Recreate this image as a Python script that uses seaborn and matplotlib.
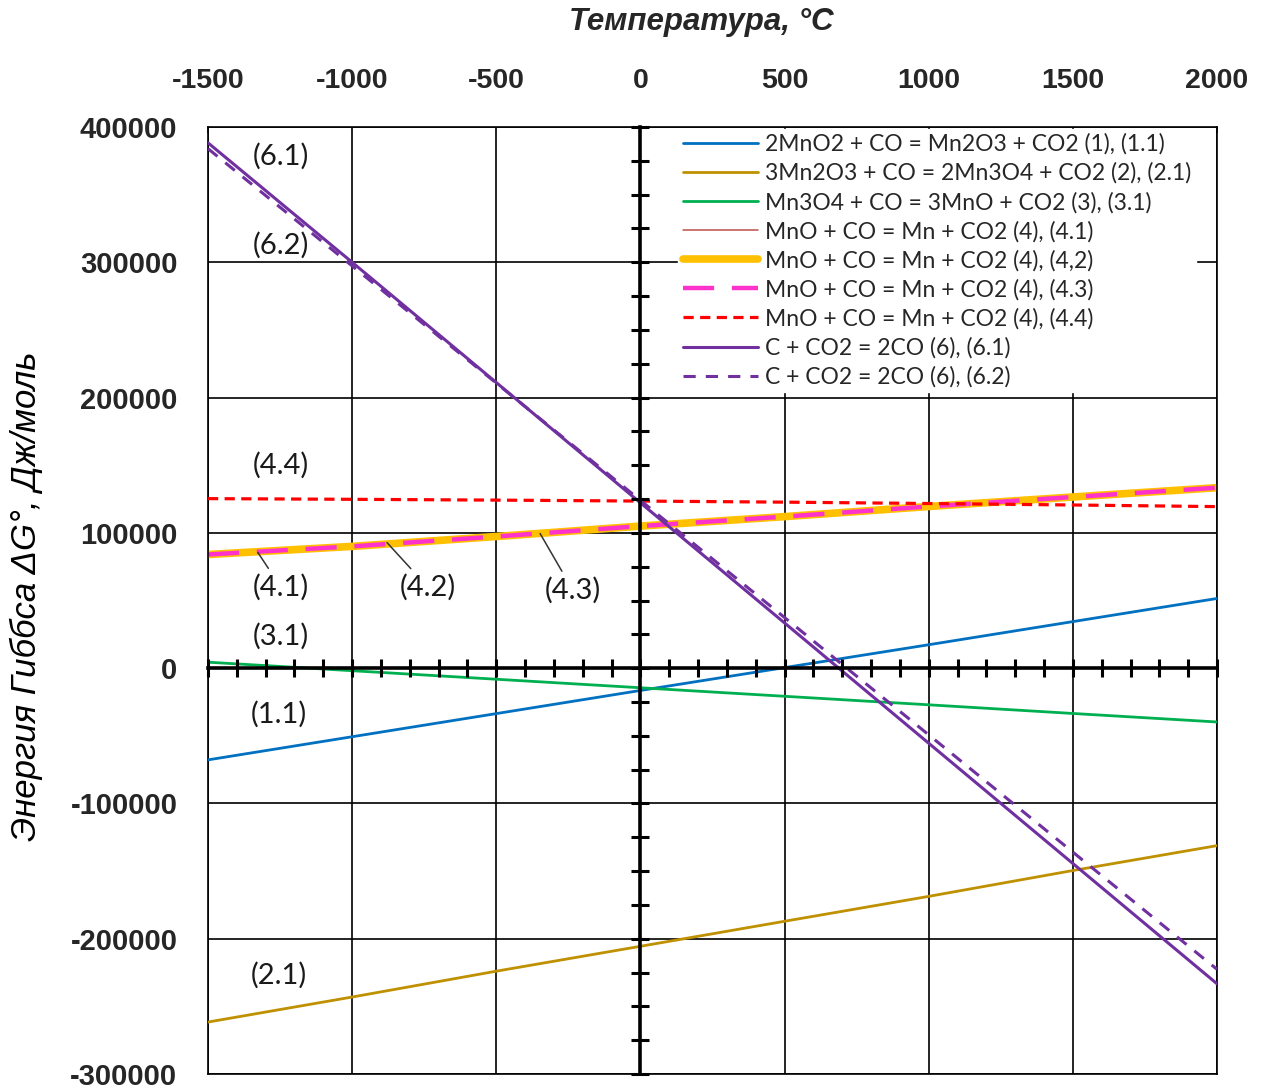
import matplotlib
matplotlib.use("Agg")
import matplotlib.pyplot as plt
import numpy as np
import seaborn as sns
from matplotlib import font_manager

# Температуры, °C (точки)
temps = [-1500, -1000, -500, 0, 500, 1000, 1500, 2000]

# Энергия Гиббса, Дж/моль
g_1_1 = [-67800, -50700, -33600, -16500, 400, 17300, 34400, 51500]
g_2_1 = [-261600, -243100, -224000, -205600, -187100, -168700, -149600, -131200]
g_3_1 = [4400, -1900, -8200, -14500, -20800, -27100, -33500, -39800]
g_4_x = [84000, 90000, 97300, 105000, 112000, 119500, 126500, 133400]
g_4_4 = [125300, 124800, 124200, 123500, 122700, 121700, 120600, 119400]
g_6_1 = [388300, 300000, 211100, 122200, 33400, -55500, -144400, -233300]
g_6_2 = [384000, 297300, 210700, 124000, 37400, -49300, -136000, -222600]

labels = [
    "2MnO2 + CO = Mn2O3 + CO2 (1), (1.1)",
    "3Mn2O3 + CO = 2Mn3O4 + CO2 (2), (2.1)",
    "Mn3O4 + CO = 3MnO + CO2 (3), (3.1)",
    "MnO + CO = Mn + CO2 (4), (4.1)",
    "MnO + CO = Mn + CO2 (4), (4,2)",
    "MnO + CO = Mn + CO2 (4), (4.3)",
    "MnO + CO = Mn + CO2 (4), (4.4)",
    "C + CO2 = 2CO (6), (6.1)",
    "C + CO2 = 2CO (6), (6.2)",
]

x_ticks = [-1500, -1000, -500, 0, 500, 1000, 1500, 2000]
y_ticks = [-300000, -200000, -100000, 0, 100000, 200000, 300000, 400000]

sns.set_style("white")
names = {f.name for f in font_manager.fontManager.ttflist}
narrow = "Liberation Sans Narrow" in names
top_family = ["Liberation Sans Narrow", "DejaVu Sans"] if narrow else ["Liberation Sans", "DejaVu Sans"]
plt.rcParams["font.family"] = ["Liberation Sans", "DejaVu Sans"]
plt.rcParams["axes.unicode_minus"] = False

fig = plt.figure(figsize=(12.61, 10.90), dpi=100)
pos = [208 / 1261, 1 - 1074 / 1090, 1009 / 1261, (1074 - 127) / 1090]
ax = fig.add_axes(pos)

# series: data, colour, width, dashes, zorder
series = [
    (g_1_1, "#0070C0", 2.0, None, 3),
    (g_2_1, "#BF9000", 2.0, None, 3),
    (g_3_1, "#00B050", 2.0, None, 3),
    (g_4_x, "#C0504D", 1.1, None, 2.0),
    (g_4_x, "#FFC000", 5.5, None, 2.1),
    (g_4_x, "#FF33CC", 3.2, [7, 4], 2.2),
    (g_4_4, "#FF0000", 2.3, [3.2, 2], 3),
    (g_6_1, "#7030A0", 2.2, None, 4),
    (g_6_2, "#7030A0", 2.2, [4, 3.3], 4),
]
for (vals, col, lw, dash, z), lab in zip(series, labels):
    sns.lineplot(x=temps, y=vals, ax=ax, color=col, linewidth=lw, label=lab,
                 zorder=z, legend=False)
    line = ax.lines[-1]
    if dash is not None:
        line.set_dashes(dash)
    if col == "#FFC000":
        line.set_solid_capstyle("round")

ax.set_xlim(-1500, 2000)
ax.set_ylim(-300000, 400000)
ax.set_xticks(x_ticks)
ax.set_yticks(y_ticks)
ax.xaxis.tick_top()
ax.grid(True, color="black", linewidth=1.2)
for s in ax.spines.values():
    s.set_visible(True)
    s.set_color("black")
    s.set_linewidth(1.2)
ax.tick_params(axis="x", which="major", top=True, direction="in", length=4, width=1.2,
               pad=24, labelsize=23 if narrow else 20.5)
ax.tick_params(axis="y", which="major", length=0, pad=22, labelsize=21)
for t in ax.get_xticklabels():
    t.set_fontweight("bold")
    t.set_family(top_family)
for t in ax.get_yticklabels():
    t.set_fontweight("bold")
ax.set_xlabel("")
ax.set_ylabel("")

# annotations
txt_kw = dict(fontsize=21, family=["Lato", "DejaVu Sans"], color="#1a1a1a",
              ha="center", va="center", zorder=6)
for s, (tx, ty) in {"(6.1)": (-1247, 378000), "(6.2)": (-1247, 312400),
                    "(4.4)": (-1247, 150300), "(3.1)": (-1247, 23600),
                    "(1.1)": (-1254, -33900), "(2.1)": (-1254, -227000)}.items():
    ax.text(tx, ty, s, **txt_kw)
for s, pt, tp in [("(4.1)", (-1327, 85500), (-1247, 59700)),
                  ("(4.2)", (-879, 92800), (-737, 59700)),
                  ("(4.3)", (-348, 99500), (-234, 57500))]:
    ax.annotate(s, xy=pt, xytext=tp, **txt_kw,
                arrowprops=dict(arrowstyle="-", color="#333333", lw=1.1,
                                shrinkA=2, shrinkB=0))

leg = ax.legend(loc="upper left", bbox_to_anchor=(0.466, 0.998),
                borderaxespad=0, frameon=True, fancybox=False,
                prop={"family": ["Lato", "DejaVu Sans"], "size": 16.5},
                handlelength=3.3, handletextpad=0.3, labelspacing=0.33,
                borderpad=0.2)
leg.get_frame().set_edgecolor("white")
leg.get_frame().set_facecolor("white")
leg.get_frame().set_alpha(1)
leg.set_zorder(7)

# thick axes through zero
ax2 = fig.add_axes(pos)
ax2.set_xlim(-1500, 2000)
ax2.set_ylim(-300000, 400000)
ax2.patch.set_visible(False)
ax2.spines["top"].set_visible(False)
ax2.spines["right"].set_visible(False)
ax2.spines["left"].set_position(("data", 0))
ax2.spines["bottom"].set_position(("data", 0))
ax2.spines["left"].set_linewidth(2.6)
ax2.spines["bottom"].set_linewidth(2.6)
ax2.spines["left"].set_color("black")
ax2.spines["bottom"].set_color("black")
ax2.set_xticks(np.arange(-1500, 2001, 100))
ax2.set_yticks(np.arange(-300000, 400001, 25000))
ax2.tick_params(direction="inout", length=13, width=2.2, bottom=True, left=True,
                labelbottom=False, labelleft=False, color="black")

fig.text(701 / 1261, 1 - 22 / 1090, "Температура, °C", ha="center", va="center",
         fontsize=23 if narrow else 22.5, fontweight="bold", fontstyle="italic",
         family=top_family)
fig.text(26 / 1261, 1 - 596 / 1090, "Энергия Гиббса ΔG°, Дж/моль", ha="center",
         va="center", rotation=90, fontsize=25, fontstyle="italic", color="black")

fig.savefig("out.png", dpi=100)
